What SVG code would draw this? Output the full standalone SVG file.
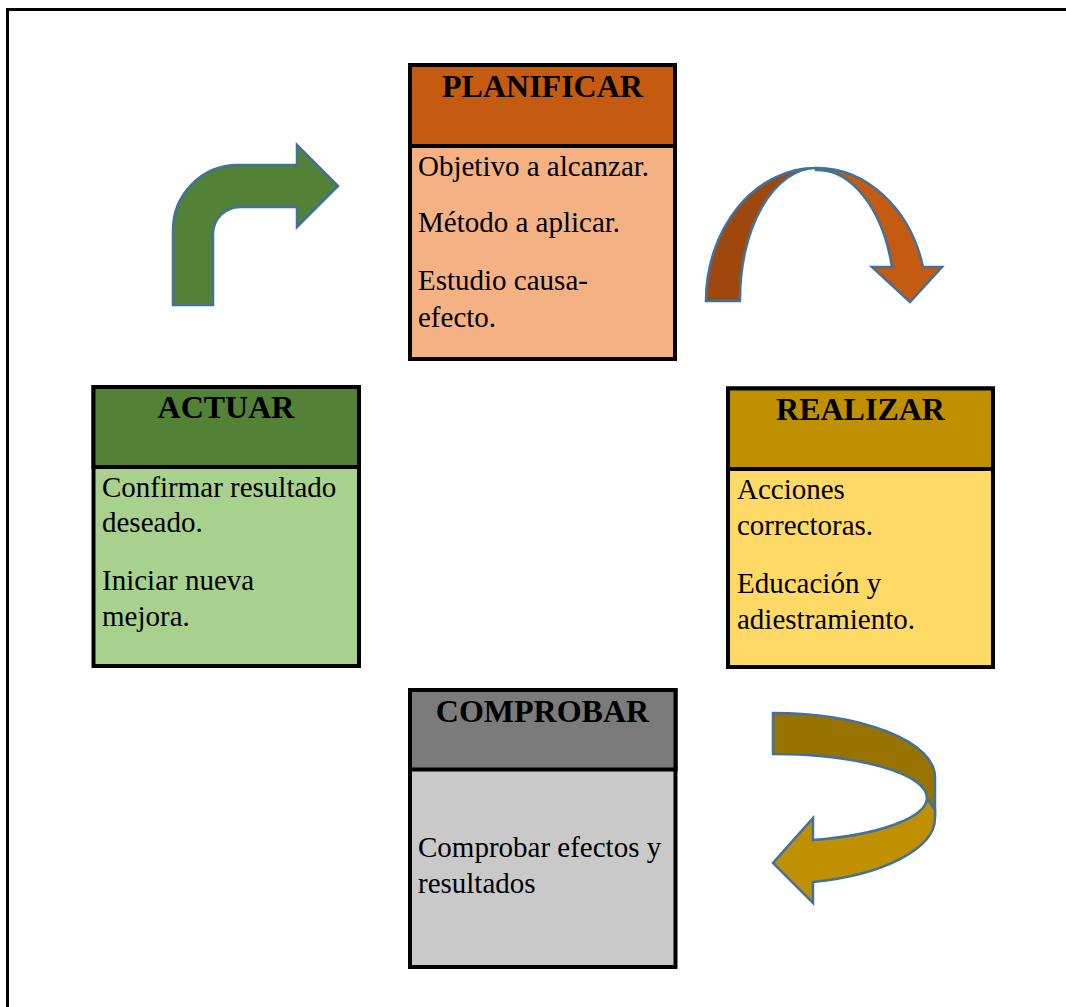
<svg xmlns="http://www.w3.org/2000/svg" width="1066" height="1007" viewBox="0 0 1066 1007">
<style>
.box{stroke:#000;stroke-width:4}
.title{font-weight:bold;font-size:32px;fill:#000;text-anchor:middle}
.body{font-size:29px;fill:#000}
.arr{stroke:#41719C;stroke-width:2.5;stroke-linejoin:miter}
</style>
<rect width="1066" height="1007" fill="#fff"/>
<path d="M7.5,1007 V9.5 H1066" fill="none" stroke="#000" stroke-width="3"/>

<g font-family="'Liberation Serif', 'DejaVu Serif', serif">
<g id="planificar">
<rect class="box" x="410" y="65" width="265" height="294" fill="#F4B183"/>
<rect x="410" y="65" width="265" height="81" fill="#C55A11" class="box"/>
<text class="title" x="542.5" y="97">PLANIFICAR</text>
<text class="body" x="418" y="176">Objetivo a alcanzar.</text>
<text class="body" x="418" y="232">Método a aplicar.</text>
<text class="body" x="418" y="290">Estudio causa-</text>
<text class="body" x="418" y="327">efecto.</text>
</g>

<g id="actuar">
<rect class="box" x="93.5" y="387" width="265.5" height="279" fill="#A9D18E"/>
<rect class="box" x="93.5" y="387" width="265.5" height="80" fill="#538135"/>
<text class="title" x="226" y="418">ACTUAR</text>
<text class="body" x="102" y="497">Confirmar resultado</text>
<text class="body" x="102" y="532">deseado.</text>
<text class="body" x="102" y="590">Iniciar nueva</text>
<text class="body" x="102" y="626">mejora.</text>
</g>

<g id="realizar">
<rect class="box" x="728" y="388.5" width="265" height="278.5" fill="#FFD966"/>
<rect class="box" x="728" y="388.5" width="265" height="80.5" fill="#BF9000"/>
<text class="title" x="860.5" y="420">REALIZAR</text>
<text class="body" x="737" y="499">Acciones</text>
<text class="body" x="737" y="535">correctoras.</text>
<text class="body" x="737" y="593">Educación y</text>
<text class="body" x="737" y="629">adiestramiento.</text>
</g>

<g id="comprobar">
<rect class="box" x="410" y="690" width="265.5" height="277" fill="#C9C9C9"/>
<rect class="box" x="410" y="690" width="265.5" height="79.5" fill="#7B7B7B"/>
<text class="title" x="542.5" y="722">COMPROBAR</text>
<text class="body" x="418" y="857">Comprobar efectos y</text>
<text class="body" x="418" y="893">resultados</text>
</g>
</g>

<g id="connectors">
<path class="arr" fill="#538135" d="M173,305 L173,230 A65,65 0 0 1 238,165 L297,165 L297,145 L338,186 L297,227 L297,207 L240,207 A27,27 0 0 0 213,234 L213,305 Z"/>
<path class="arr" fill="#9E480E" d="M706,301 A110,133 0 0 1 816,168 A76,131 0 0 0 740,301 Z"/>
<path class="arr" fill="#C55A11" d="M816,168 A110,133 0 0 1 923,267 L942,267 L910,302 L872,267 L892,267 A77,131 0 0 0 816,170 Z"/>
<path class="arr" fill="#997300" d="M773,713 A162,64 0 0 1 935,777 L935,812 L927,798 A154,44 0 0 0 773,754 Z"/>
<path class="arr" fill="#BF9000" d="M927,798 L935,810 L935,818 A162,66 0 0 1 813,882 L813,903 L773,863 L813,818 L813,840 A154,44 0 0 0 927,798 Z"/>
</g>
</svg>
